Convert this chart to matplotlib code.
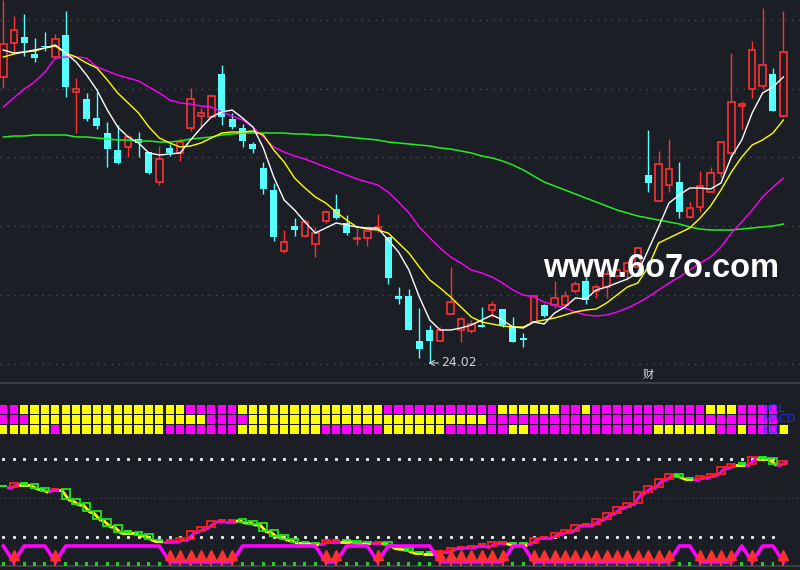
import numpy as np
import matplotlib
matplotlib.use("Agg")
from matplotlib import pyplot as plt
from matplotlib.collections import LineCollection

# ---- price candles (76 daily bars) ----
opens = [38.32, 40.02, 40.32, 39.47, 39.87, 39.32, 40.42, 37.57, 37.22, 36.27,
         35.52, 34.67, 34.82, 35.22, 34.57, 33.07, 34.77, 34.52, 35.77, 36.37,
         36.32, 38.47, 36.22, 35.77, 34.97, 33.77, 32.67, 29.62, 30.87, 30.37,
         29.97, 31.12, 31.72, 31.02, 30.22, 30.27, 30.72, 30.32, 27.37, 27.37,
         25.12, 25.67, 25.12, 26.47, 25.67, 25.62, 25.92, 26.67, 26.72, 25.82,
         25.27, 26.07, 26.92, 26.92, 26.92, 27.62, 28.12, 27.62, 27.82, 28.37,
         28.62, 28.82, 33.42, 32.12, 32.92, 33.07, 31.32, 31.82, 32.57, 33.52,
         34.52, 36.87, 37.72, 37.87, 38.47, 36.37]
highs = [42.17, 41.37, 41.47, 40.27, 40.57, 40.47, 41.62, 38.27, 37.52, 37.57,
         36.07, 35.92, 35.42, 35.57, 34.57, 34.87, 34.97, 35.27, 37.77, 36.77,
         37.47, 38.92, 36.52, 35.97, 35.07, 34.07, 33.02, 30.67, 31.27, 31.22,
         30.82, 31.67, 32.47, 31.42, 30.77, 30.62, 31.47, 30.32, 27.82, 27.72,
         26.77, 25.92, 25.82, 28.82, 26.32, 26.17, 26.82, 27.12, 26.72, 26.32,
         25.52, 27.42, 26.97, 28.12, 27.62, 28.12, 28.52, 27.97, 28.67, 28.77,
         29.07, 29.82, 35.67, 34.62, 35.22, 34.07, 32.07, 33.62, 33.82, 35.12,
         39.52, 37.12, 40.12, 41.77, 38.77, 41.62]
lows = [37.77, 39.52, 39.37, 39.07, 39.62, 39.32, 37.32, 35.52, 36.12, 35.72,
        33.82, 33.97, 34.32, 34.32, 33.47, 32.92, 34.37, 34.12, 35.62, 35.77,
        36.32, 35.92, 35.72, 34.82, 34.52, 32.47, 30.12, 29.52, 30.37, 30.32,
        29.32, 31.02, 31.22, 30.42, 29.92, 29.87, 30.57, 27.97, 26.97, 25.67,
        24.27, 24.02, 25.12, 26.47, 25.07, 25.52, 25.82, 26.32, 25.82, 25.07,
        24.82, 26.07, 26.32, 26.77, 26.87, 27.52, 26.97, 27.27, 27.27, 28.32,
        28.17, 28.82, 32.57, 32.12, 32.57, 31.27, 31.27, 31.57, 32.57, 33.32,
        34.37, 35.72, 37.27, 37.72, 36.62, 36.32]
closes = [39.97, 40.67, 40.02, 39.27, 39.82, 40.22, 37.82, 37.72, 36.22, 35.87,
          34.72, 34.02, 35.32, 35.02, 33.52, 34.22, 34.52, 35.07, 37.22, 36.52,
          37.37, 36.32, 35.82, 35.12, 34.72, 32.72, 30.32, 30.07, 30.67, 31.07,
          30.52, 31.57, 31.27, 30.52, 30.27, 30.62, 30.82, 28.27, 27.22, 25.67,
          24.72, 25.12, 25.67, 27.07, 26.22, 25.97, 25.82, 26.92, 25.92, 25.07,
          25.17, 27.37, 26.37, 27.27, 27.37, 27.97, 27.17, 27.82, 28.47, 28.67,
          29.02, 29.77, 33.02, 33.97, 33.72, 31.57, 31.77, 32.87, 33.52, 35.07,
          37.07, 36.97, 39.67, 38.92, 36.62, 39.57]

ma5 = [39.67, 39.52, 39.57, 39.67, 39.77, 39.92, 39.52, 39.07, 38.42, 37.67,
       36.67, 35.82, 35.32, 35.02, 34.52, 34.42, 34.47, 34.52, 35.17, 35.77,
       36.32, 36.57, 36.67, 36.27, 35.82, 34.77, 33.32, 32.17, 31.67, 31.07,
       30.52, 30.77, 31.02, 30.92, 30.82, 30.77, 30.77, 30.17, 29.57, 28.67,
       27.32, 26.17, 25.67, 25.67, 25.77, 25.92, 26.17, 26.42, 26.17, 25.82,
       25.77, 26.07, 25.97, 26.52, 26.82, 27.27, 27.22, 27.67, 27.82, 28.02,
       28.22, 28.52, 29.67, 30.82, 32.02, 32.42, 32.77, 32.77, 32.72, 33.02,
       34.32, 35.17, 36.52, 37.52, 37.82, 38.32]
ma10 = [39.32, 39.47, 39.57, 39.62, 39.77, 39.87, 39.52, 39.32, 39.02, 38.77,
        38.17, 37.52, 37.02, 36.52, 35.82, 35.27, 35.02, 34.82, 34.87, 35.02,
        35.27, 35.52, 35.57, 35.57, 35.62, 35.42, 34.67, 34.07, 33.27, 32.77,
        32.32, 32.02, 31.57, 31.17, 30.82, 30.72, 30.67, 30.52, 30.02, 29.52,
        28.82, 28.17, 27.77, 27.32, 26.82, 26.32, 26.07, 25.97, 25.87, 25.82,
        25.82, 26.07, 26.17, 26.27, 26.42, 26.57, 26.67, 26.72, 27.02, 27.42,
        27.82, 28.02, 28.82, 30.02, 30.27, 30.52, 30.77, 31.27, 31.87, 32.67,
        33.57, 34.32, 34.92, 35.17, 35.52, 36.17]
ma20 = [36.82, 37.27, 37.72, 38.07, 38.57, 39.27, 39.32, 39.32, 39.27, 38.82,
        38.62, 38.42, 38.27, 38.12, 37.82, 37.52, 37.17, 37.02, 36.97, 36.87,
        36.82, 36.57, 36.37, 36.17, 35.82, 35.32, 34.82, 34.57, 34.37, 34.22,
        34.02, 33.82, 33.62, 33.42, 33.22, 33.07, 32.92, 32.57, 32.07, 31.52,
        30.82, 30.27, 29.77, 29.32, 29.02, 28.67, 28.52, 28.32, 28.02, 27.67,
        27.42, 27.32, 27.07, 26.92, 26.77, 26.57, 26.42, 26.37, 26.42, 26.57,
        26.77, 27.02, 27.32, 27.67, 28.02, 28.32, 28.67, 29.02, 29.32, 29.82,
        30.52, 31.07, 31.67, 32.32, 32.82, 33.27]
ma60 = [35.32, 35.37, 35.37, 35.42, 35.42, 35.42, 35.42, 35.32, 35.32, 35.27,
        35.22, 35.17, 35.17, 35.12, 35.12, 35.07, 35.07, 35.12, 35.22, 35.27,
        35.32, 35.42, 35.47, 35.52, 35.52, 35.52, 35.52, 35.52, 35.47, 35.47,
        35.42, 35.42, 35.37, 35.32, 35.27, 35.22, 35.17, 35.07, 35.02, 34.97,
        34.92, 34.87, 34.77, 34.72, 34.62, 34.52, 34.37, 34.27, 34.12, 33.92,
        33.67, 33.37, 33.07, 32.87, 32.67, 32.47, 32.27, 32.07, 31.87, 31.67,
        31.52, 31.37, 31.27, 31.17, 31.07, 30.97, 30.82, 30.72, 30.67, 30.67,
        30.67, 30.72, 30.77, 30.82, 30.87, 30.97]
price_grid = [41.17, 37.72, 34.32, 30.87, 27.42, 23.97]

# ---- signal grid rows (M = magenta, Y = yellow, . = empty) ----
row_vol = "MMYYYYYYYYYYYYYYYYMMMMMYYYYYYYYYYYYYYMMMMMMMMMMMYYYYYYMMYMMMMMMMMMMMYYYMMMM."
row_macd = "MMMYYYYYYYYYYYYYYYYYMMMMYYYYYYYYYYYYYYYYYYYYYYYMMMMMMMMMMMMMMMMMMMMMMMMMMMM."
row_kdj = "YYYYYMYYYYYYYYYYMMMMMMMYYYYYYYYMMMMMMYYYYYYMMMMMMYYMMMMMMMMMMMMYYYYYYMMYMMMY"
row_names = ["VOL", "MACD", "KDJ"]

# ---- lower oscillator (box open / close per bar) ----
osc_open = [59.2, 58.5, 60.8, 60.8, 57.7, 56.9, 56.9, 49.2, 46.2, 40.0,
            33.9, 29.2, 23.9, 23.9, 22.3, 17.7, 17.7, 16.9, 18.5, 24.6,
            27.7, 33.1, 33.1, 33.9, 32.3, 30.8, 25.4, 21.6, 18.5, 16.2,
            15.4, 15.4, 17.7, 17.7, 16.9, 16.2, 16.2, 16.2, 12.3, 11.5,
            8.5, 8.5, 7.7, 9.2, 12.3, 13.1, 13.9, 13.1, 16.2, 15.4,
            15.4, 15.4, 20.0, 20.0, 23.1, 24.6, 30.0, 30.0, 33.9, 38.5,
            43.1, 46.2, 54.6, 58.5, 64.6, 68.5, 65.4, 64.6, 66.2, 68.5,
            73.8, 76.2, 76.2, 80.8, 80.8, 76.2]
osc_close = [59.2, 61.5, 60.8, 57.7, 55.4, 56.9, 49.2, 45.4, 40.0, 33.9,
             28.5, 23.9, 23.9, 21.6, 18.5, 17.7, 17.7, 19.2, 24.6, 27.7,
             32.3, 33.1, 33.1, 31.6, 30.0, 24.6, 20.8, 18.5, 16.2, 16.2,
             15.4, 17.7, 17.7, 17.7, 15.4, 16.2, 16.2, 13.9, 11.5, 9.2,
             8.5, 8.5, 9.2, 11.5, 12.3, 13.1, 13.9, 16.2, 16.2, 15.4,
             15.4, 19.2, 20.0, 23.1, 25.4, 29.2, 30.0, 33.9, 38.5, 43.1,
             46.2, 54.6, 59.2, 64.6, 68.5, 66.2, 65.4, 66.9, 68.5, 73.8,
             76.2, 76.2, 81.5, 80.8, 76.2, 78.5]
osc_dir = "GRGGGRGGGGGGGGGGRRRRRRRGGGGGGGGRRGGGRGGGGGRRRRRRRGGRRRRRRRRRRRRRRGGRRRRGRGGR"
signal = "1011101111111111000000011111111001110111110000000110000000000000011000010110"

BG = "#1b1e25"
RED = "#ff3030"
CYAN = "#55ffff"
n = len(closes)
x = np.arange(n)
o = np.array(opens); h = np.array(highs); l = np.array(lows); c = np.array(closes)
xl = (-0.32, 76.6)

fig = plt.figure(figsize=(8, 5.7), dpi=100, facecolor=BG)

# ---------------- main price panel ----------------
ax = fig.add_axes([0, 187 / 570, 1, 383 / 570], facecolor=BG)
ax.set_xlim(*xl)
ax.set_ylim(23.02, 42.17)
for g in price_grid:
    ax.axhline(g, color="#4a4e58", lw=1, ls=(0, (1, 4)), zorder=0)

up = c >= o
ax.vlines(x[up], l[up], h[up], color=RED, lw=1, zorder=2)
ax.vlines(x[~up], l[~up], h[~up], color=CYAN, lw=1, zorder=2)
bot = np.minimum(o, c)
hgt = np.maximum(np.abs(c - o), 0.05)
ax.bar(x[up], hgt[up], bottom=bot[up], width=0.62, facecolor=BG,
       edgecolor=RED, lw=1.2, zorder=3)
ax.bar(x[~up], hgt[~up], bottom=bot[~up], width=0.68, color=CYAN, lw=0, zorder=3)

ax.plot(x, ma60, color="#22ee22", lw=1.1, zorder=4)
ax.plot(x, ma20, color="#ff00ff", lw=1.0, zorder=4)
ax.plot(x, ma10, color="#ffff00", lw=1.0, zorder=4)
ax.plot(x, ma5, color="#ffffff", lw=1.0, zorder=5)

lo_i = int(np.argmin(l))
ax.annotate(f"{l[lo_i]:.2f}", xy=(lo_i - 0.15, l[lo_i]), xytext=(lo_i + 1.1, l[lo_i]),
            va="center", ha="left", color="#c8d0e0", fontsize=9,
            arrowprops=dict(arrowstyle="->", color="#c8d0e0", lw=0.8,
                            shrinkA=0, shrinkB=0))
ax.text(62, 23.4, "财", color="#dcdcdc", fontsize=8, ha="center", va="center",
        family=["Noto Sans CJK SC", "DejaVu Sans"])
ax.text(0.679, 0.277, "www.6o7o.com", transform=ax.transAxes, color="white",
        fontsize=23.5, fontweight="bold", family="Liberation Sans",
        ha="left", va="baseline", zorder=10)
ax.axis("off")

# ---------------- lower panel ----------------
lo = fig.add_axes([0, 4 / 570, 1, 183 / 570], facecolor=BG)
lo.set_xlim(*xl)
lo.set_ylim(-2.3, 138.4)
for s in ["left", "right"]:
    lo.spines[s].set_visible(False)
for s in ["top", "bottom"]:
    lo.spines[s].set_color("#3a3e47")
    lo.spines[s].set_linewidth(1.5)
lo.set_xticks([]); lo.set_yticks([])

lo.plot(x[:-1], [80] * (n - 1), ls="none", marker="s", ms=1.2, color="#e8e8e8")
lo.plot(x[:-1], [20] * (n - 1), ls="none", marker="s", ms=1.2, color="#e8e8e8")
lo.axhline(50, color="#3e424b", lw=1, ls=(0, (1, 2)))

oo = np.array(osc_open); cc = np.array(osc_close)
# step trail under the boxes
segs, scol = [], []
for i in range(1, n):
    segs.append([(i - 1 + 0.35, cc[i - 1] - 1.2), (i - 0.35, oo[i] - 1.2), (i + 0.35, cc[i] - 1.2)])
    scol.append("#ffff00" if osc_dir[i] == "G" else "#ff00ff")
lo.add_collection(LineCollection(segs, colors=scol, linewidths=2, zorder=2))

colmap = {"G": "#1ee61e", "R": "#ff2020"}
for i in range(n):
    col = colmap[osc_dir[i]]
    if abs(cc[i] - oo[i]) > 1.0:
        lo.bar(i, abs(cc[i] - oo[i]), bottom=min(oo[i], cc[i]), width=0.76,
               fill=False, edgecolor=col, lw=1.3, zorder=3)
    else:
        lo.bar(i, 2.2, bottom=oo[i] - 1.1, width=0.8, color=col, lw=0, zorder=3)

sig = np.array([int(s) for s in signal])
lvl = np.where(sig == 1, 13.1, 0.8)
lo.plot(x, lvl, color="#ff00ff", lw=2.6, zorder=4)
hi_x = x[sig == 1]
ar_x = x[sig == 0]
lo.bar(hi_x, 3.1, bottom=-2.3, width=0.28, color="#22cc22", lw=0, zorder=5)
lo.bar(ar_x, 8.0, bottom=-2.3, width=0.2, color=RED, lw=0, zorder=5)
lo.plot(ar_x, [6.4] * len(ar_x), ls="none", marker="^", ms=6.5, color=RED, zorder=6)

# ---------------- colour signal grid ----------------
gd = fig.add_axes([0, (570 - 435) / 570, 1, 31 / 570])
gd.set_xlim(*xl)
gd.set_ylim(0, 3)
gd.axis("off")
cmap = {"M": "#ff00ff", "Y": "#ffff00"}
for r, row in enumerate([row_vol, row_macd, row_kdj]):
    idx = [i for i, ch in enumerate(row) if ch != "."]
    gd.bar(idx, 0.84, bottom=2 - r + 0.08, width=0.8,
           color=[cmap[row[i]] for i in idx], lw=0)
    gd.text(73.0, 2.5 - r, row_names[r], color="#2233ff", fontsize=8,
            ha="left", va="center", alpha=0.9)

fig.savefig("out.png", dpi=100, facecolor=BG)
